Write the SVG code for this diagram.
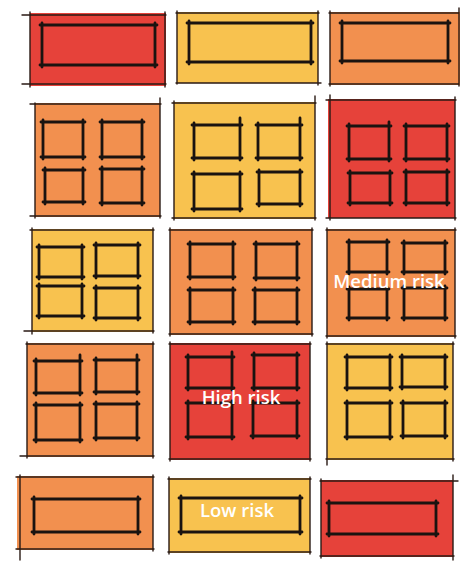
<svg xmlns="http://www.w3.org/2000/svg" width="462" height="563" viewBox="0 0 462 563">
<style>
.r{fill:#E6423A}.y{fill:#F8C24F}.o{fill:#F2904F}
.b{fill:none;stroke:#2a1a14;stroke-width:1.4;stroke-linecap:round}
.w{fill:none;stroke:#1a1310;stroke-width:2.8;stroke-linecap:round;stroke-linejoin:round}
.t{fill:#ffffff;font-family:"Open Sans","DejaVu Sans",sans-serif;font-weight:600;font-size:18.5px;text-anchor:middle}
</style>
<rect width="462" height="563" fill="#ffffff"/>
<g id="tile-a1">
<rect class="r" x="30" y="13" width="136" height="73"/>
<path class="b" d="M22 15H166M22 84H166M30 12V87M165 12V87"/>
<path class="w" d="M40 25H157M40 65H157M42 23V67M155 23V67"/>
</g>
<g id="tile-b1">
<rect class="y" x="177" y="12" width="141" height="71"/>
<path class="b" d="M176 13H319M176 83H321M177 11V84M318 11V85"/>
<path class="w" d="M187 23H313M187 62H313M189 21V64M311 21V64"/>
</g>
<g id="tile-c1">
<rect class="o" x="330" y="12" width="130" height="73"/>
<path class="b" d="M329 13H459M329 84H459M330 11V86M459 8V86"/>
<path class="w" d="M340 23H450M340 61H450M342 21V63M448 21V63"/>
</g>
<g id="tile-a2">
<rect class="o" x="35" y="103" width="125" height="114"/>
<path class="b" d="M30 104H161M30 216H161M35 103V218M160 98V218"/>
<path class="w" d="M41 122H85M41 157H85M43 120V159M83 120V159M100 122H144M100 157H144M102 120V159M142 120V159M43 170H85M43 202H85M45 168V204M83 168V204M100 169H144M100 203H144M102 167V205M142 167V205"/>
</g>
<g id="tile-b2">
<rect class="y" x="174" y="102" width="141" height="117"/>
<path class="b" d="M172 103H316M172 218H316M174 101V220M315 96V220"/>
<path class="w" d="M192 125H242M192 158H242M194 123V160M240 118V160M256 125H302M256 158H302M258 123V160M300 118V160M192 174H242M192 209H242M194 172V211M240 172V211M257 172H302M257 204H302M259 170V206M300 170V206"/>
</g>
<g id="tile-c2">
<rect class="r" x="328" y="99" width="127" height="119"/>
<path class="b" d="M326 100H456M326 218H456M330 95V220M455 97V220"/>
<path class="w" d="M347 126H391M347 159H391M349 124V161M389 122V161M404 126H449M404 159H449M406 124V161M447 124V161M348 173H392M348 203H392M350 171V205M390 171V205M404 172H449M404 203H449M406 170V205M447 170V205"/>
</g>
<g id="tile-a3">
<rect class="y" x="32" y="229" width="121" height="103"/>
<path class="b" d="M30 230H154M24 331H154M32 228V334M153 228V333"/>
<path class="w" d="M37 247H84M37 277H84M39 245V279M82 245V279M94 245H140M94 276H140M96 243V278M138 243V278M37 286H84M37 316H84M39 284V318M82 284V318M94 288H140M94 318H140M96 286V320M138 286V320"/>
</g>
<g id="tile-b3">
<rect class="o" x="170" y="229" width="142" height="106"/>
<path class="b" d="M169 230H313M169 334H313M170 228V336M312 228V336"/>
<path class="w" d="M188 244H235M188 277H235M190 242V279M233 242V279M254 244H299M254 278H299M256 242V280M297 242V280M188 290H235M188 322H235M190 288V324M233 288V324M253 290H299M253 322H299M255 288V324M297 288V324"/>
</g>
<g id="tile-c3">
<rect class="o" x="327" y="229" width="128" height="108"/>
<path class="b" d="M326 230H456M326 336H456M327 228V338M455 228V338"/>
<path class="w" d="M347 242H389M347 272H389M349 240V274M387 240V274M402 243H447M402 272H447M404 241V274M445 241V274M347 289H389M347 318H389M349 287V320M387 287V320M402 288H447M402 318H447M404 286V320M445 286V320"/>
<text class="t" x="389" y="288">Medium risk</text>
</g>
<g id="tile-a4">
<rect class="o" x="27" y="343" width="126" height="114"/>
<path class="b" d="M26 344H154M20 456H154M27 342V458M153 342V458"/>
<path class="w" d="M34 361H82M34 393H82M36 359V395M80 355V395M94 360H139M94 392H139M96 358V394M137 355V394M34 405H82M34 440H82M36 403V442M80 403V442M94 404H139M94 438H139M96 402V440M137 402V440"/>
</g>
<g id="tile-b4">
<rect class="r" x="170" y="343" width="140" height="117"/>
<path class="b" d="M169 344H311M169 459H311M170 342V461M310 342V461"/>
<path class="w" d="M186 357H234M186 388H234M188 355V390M232 352V390M252 355H299M252 388H299M254 353V390M297 353V390M186 403H234M186 437H234M188 401V439M232 401V439M251 403H299M251 436H299M253 401V438M297 401V438"/>
<text class="t" x="241" y="404">High risk</text>
</g>
<g id="tile-c4">
<rect class="y" x="327" y="343" width="126" height="117"/>
<path class="b" d="M326 344H454M326 459H454M327 342V465M453 342V461"/>
<path class="w" d="M345 357H392M345 388H392M347 355V390M390 355V390M400 357H447M400 387H447M402 355V389M445 355V389M345 403H392M345 437H392M347 401V439M390 401V439M401 403H447M401 436H447M403 401V438M445 401V438"/>
</g>
<g id="tile-a5">
<rect class="o" x="17" y="476" width="136" height="74"/>
<path class="b" d="M16 477H154M16 549H154M20 475V560M153 475V551"/>
<path class="w" d="M32 499H140M32 532H140M34 497V534M138 497V534"/>
</g>
<g id="tile-b5">
<rect class="y" x="169" y="478" width="141" height="75"/>
<path class="b" d="M168 479H311M168 552H311M169 477V554M310 477V554"/>
<path class="w" d="M179 498H302M179 532H302M181 496V534M300 496V534"/>
<text class="t" x="237" y="517">Low risk</text>
</g>
<g id="tile-c5">
<rect class="r" x="321" y="480" width="132" height="77"/>
<path class="b" d="M320 481H458M320 556H454M321 479V558M453 475V560"/>
<path class="w" d="M327 503H438M327 534H438M329 501V536M436 501V536"/>
</g>
</svg>
